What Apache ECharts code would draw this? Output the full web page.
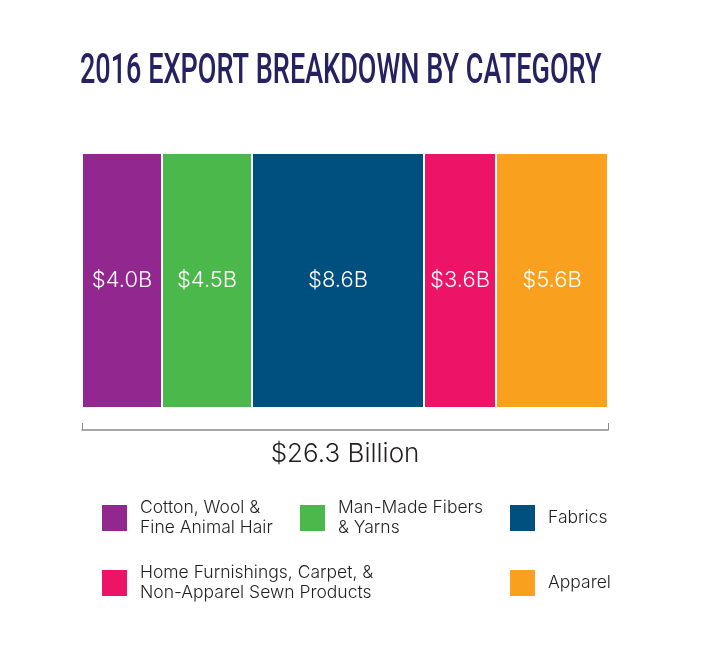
<!DOCTYPE html>
<html>
<head>
<meta charset="utf-8">
<title>2016 Export Breakdown by Category</title>
<script src="https://cdn.jsdelivr.net/npm/echarts@6/dist/echarts.min.js"></script>
<style>
html, body { margin: 0; padding: 0; background: #fff; }
#chart { width: 701px; height: 652px; }
</style>
</head>
<body>
<div id="chart"></div>
<script>
var titleText = "2016 EXPORT BREAKDOWN BY CATEGORY";
var totalLabel = "$26.3 Billion";
var total = 26.3;
var rowLabel = ["2016"];

var categories = [
	"Cotton, Wool &\nFine Animal Hair",
	"Man-Made Fibers\n& Yarns",
	"Fabrics",
	"Home Furnishings, Carpet, &\nNon-Apparel Sewn Products",
	"Apparel"
];
var values = [4.0, 4.5, 8.6, 3.6, 5.6];
var colors = ["#92278f", "#4ab84a", "#00507f", "#ed1366", "#f9a01e"];

var legendSpots = [
	{ left: 102, top: 495.5 },
	{ left: 300, top: 495.5 },
	{ left: 510, top: 505 },
	{ left: 102, top: 560.5 },
	{ left: 510, top: 570 }
];

var textFont = "Inter";

var myChart = echarts.init(document.getElementById("chart"), null, { renderer: "canvas" });

myChart.setOption({
	animation: false,
	backgroundColor: "#fff",
	// no condensed face is installed, so the title is squeezed horizontally
	graphic: [{
		type: "text",
		x: 80,
		y: 51,
		scaleX: 0.644,
		style: {
			text: titleText,
			fontFamily: "Roboto",
			fontWeight: 500,
			fontSize: 42,
			fill: "#262262"
		}
	}],
	grid: { left: 82, top: 153, width: 526, height: 255 },
	xAxis: {
		type: "value",
		min: 0,
		max: total,
		interval: total,
		offset: 22,
		splitLine: { show: false },
		axisLabel: { show: false },
		axisLine: { show: true, lineStyle: { color: "#8a8a8a", width: 1.5 } },
		axisTick: { show: true, inside: true, length: 7, lineStyle: { color: "#8a8a8a", width: 1 } },
		name: totalLabel,
		nameLocation: "middle",
		nameGap: 11,
		nameTextStyle: { fontFamily: textFont, fontWeight: 300, fontSize: 26, color: "#231f20" }
	},
	yAxis: {
		type: "category",
		data: rowLabel,
		show: false
	},
	legend: categories.map(function (name, idx) {
		return {
			data: [name],
			left: legendSpots[idx].left,
			top: legendSpots[idx].top,
			orient: "horizontal",
			padding: 0,
			itemWidth: 25,
			itemHeight: 26,
			itemGap: 0,
			icon: "rect",
			selectedMode: false,
			itemStyle: { borderWidth: 0 },
			textStyle: {
				fontFamily: textFont,
				fontWeight: 300,
				fontSize: 17.5,
				lineHeight: 20,
				color: "#231f20",
				padding: [5, 0, 0, 8]
			}
		};
	}),
	series: categories.map(function (name, idx) {
		return {
			name: name,
			type: "bar",
			stack: "total",
			barWidth: "100%",
			data: [values[idx]],
			itemStyle: { color: colors[idx], borderColor: "#fff", borderWidth: 1 },
			label: {
				show: true,
				position: "inside",
				fontFamily: textFont,
				fontWeight: 300,
				fontSize: 22,
				color: "#fff",
				formatter: function (p) { return "$" + p.value.toFixed(1) + "B"; }
			}
		};
	})
});
</script>
</body>
</html>
